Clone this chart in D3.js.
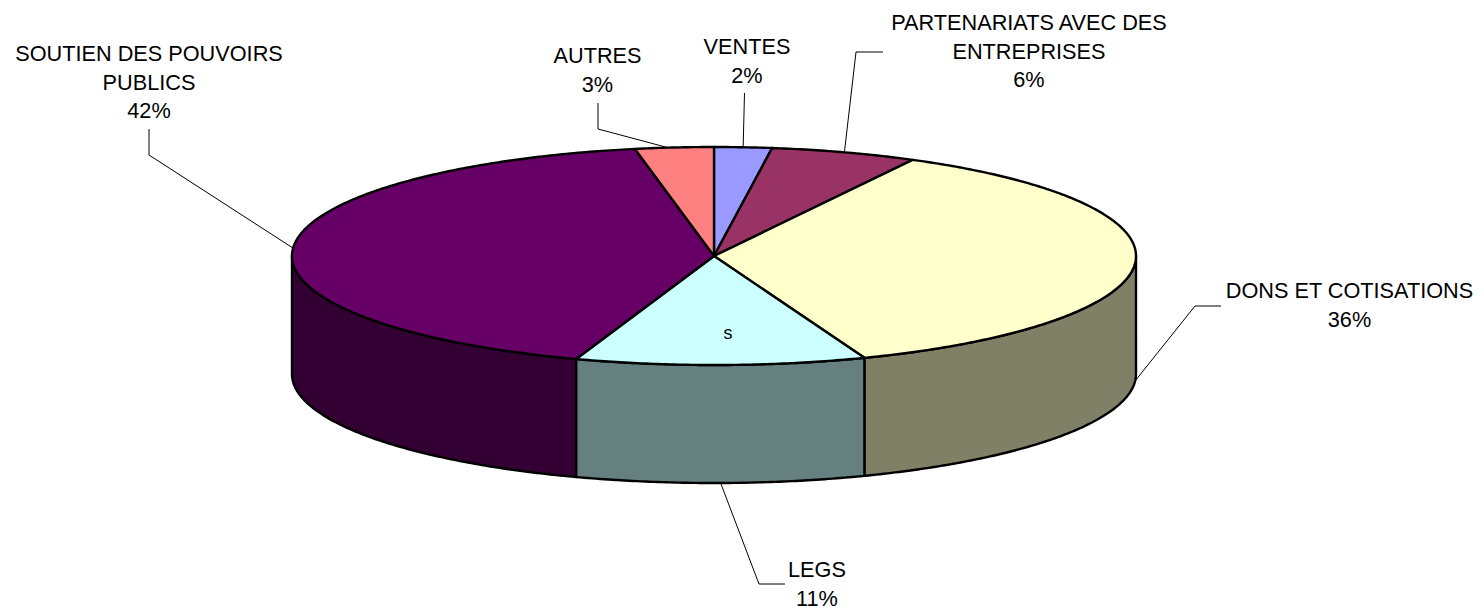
<!DOCTYPE html>
<meta charset="utf-8">
<style>
    body { margin: 0; background: #fff; }
    text { font-family: "Liberation Sans", Arial, sans-serif; font-size: 21.7px; fill: #000; }
</style>
<script src="https://d3js.org/d3.v7.min.js"></script>
<svg id="chart" width="1484" height="609"></svg>
<script>
    // values
    var categories = ["VENTES", "PARTENARIATS AVEC DES ENTREPRISES", "DONS ET COTISATIONS", "LEGS", "SOUTIEN DES POUVOIRS PUBLICS", "AUTRES"];
    var shares = [2.2, 5.6, 36.4, 11.1, 41.7, 3.0];
    var topColors = ["#9999ff", "#993366", "#ffffcc", "#ccffff", "#660066", "#ff8080"];
    var sideColors = ["#4d4d80", "#4d1a33", "#808066", "#668080", "#330033", "#804040"];

    // how each label is wrapped and where it sits
    var labelLines = [["VENTES"], ["PARTENARIATS AVEC DES", "ENTREPRISES"], ["DONS ET COTISATIONS"], ["LEGS"], ["SOUTIEN DES POUVOIRS", "PUBLICS"], ["AUTRES"]];
    var labelPos = [[747, 54], [1029, 30], [1349.5, 298], [817, 577], [149, 61], [597.5, 63]];
    var leaderBends = [[[744.5, 93]], [[883, 52], [856, 52]], [[1221, 306], [1195, 306]], [[785, 584], [759, 584]], [[149, 129], [149, 155]], [[598, 103], [598, 129]]];
    var leaderFrac = [0.5, 0.5, 0.5, 0.5, 0.5, 0.42];

    var cx = 714, cy = 256, rx = 422, ry = 109, depth = 118, lineH = 28.5;

    var svg = d3.select("#chart");

    var x = d3.scaleLinear().domain([-1, 1]).range([cx - rx, cx + rx]);
    var y = d3.scaleLinear().domain([-1, 1]).range([cy - ry, cy + ry]);

    var pie = d3.pie().sort(null);
    var slices = pie(shares);

    // angle runs clockwise from the top of the ellipse
    function pt(a, drop) {
        return [x(Math.sin(a)), y(-Math.cos(a)) + (drop || 0)];
    }
    function arcPts(a0, a1, drop) {
        var n = Math.max(2, Math.ceil((a1 - a0) / 0.01));
        return d3.range(n + 1).map(function (i) {
            return pt(a0 + (a1 - a0) * i / n, drop);
        });
    }
    var line = d3.line();

    // side walls, only the front half shows
    var frontStart = Math.PI / 2, frontEnd = Math.PI * 1.5;
    slices.forEach(function (d, i) {
        var a0 = Math.max(d.startAngle, frontStart), a1 = Math.min(d.endAngle, frontEnd);
        if (a1 <= a0) return;
        var pts = arcPts(a0, a1, 0).concat(arcPts(a0, a1, depth).reverse());
        svg.append("path")
            .attr("d", line(pts) + "Z")
            .attr("fill", sideColors[i])
            .attr("stroke", "#000")
            .attr("stroke-width", 2.4)
            .attr("stroke-linejoin", "round");
    });

    // top face
    svg.append("g").selectAll("path")
        .data(slices)
        .enter()
        .append("path")
        .attr("d", function (d) {
            return line([[cx, cy]].concat(arcPts(d.startAngle, d.endAngle, 0))) + "Z";
        })
        .attr("fill", function (d, i) { return topColors[i]; })
        .attr("stroke", "#000")
        .attr("stroke-width", 2.4)
        .attr("stroke-linejoin", "round");

    // leader lines end on the pie, inside the slice
    slices.forEach(function (d, i) {
        var a = d.startAngle + (d.endAngle - d.startAngle) * leaderFrac[i];
        var front = Math.cos(a) < 0.02;
        var end = pt(a, front ? depth : 0);
        svg.append("path")
            .attr("d", line(leaderBends[i].concat([end])))
            .attr("fill", "none")
            .attr("stroke", "#000")
            .attr("stroke-width", 1);
    });

    // labels
    var fmt = d3.format(".0f");
    labelLines.forEach(function (lines, i) {
        var t = svg.append("text")
            .attr("text-anchor", "middle")
            .attr("aria-label", categories[i]);
        lines.concat([fmt(shares[i]) + "%"]).forEach(function (s, k) {
            t.append("tspan")
                .attr("x", labelPos[i][0])
                .attr("y", labelPos[i][1] + k * lineH)
                .text(s);
        });
    });

    // stray letter sitting on the LEGS slice
    svg.append("text")
        .attr("x", 728)
        .attr("y", 339)
        .attr("text-anchor", "middle")
        .style("font-size", "18px")
        .text("s");
</script>
